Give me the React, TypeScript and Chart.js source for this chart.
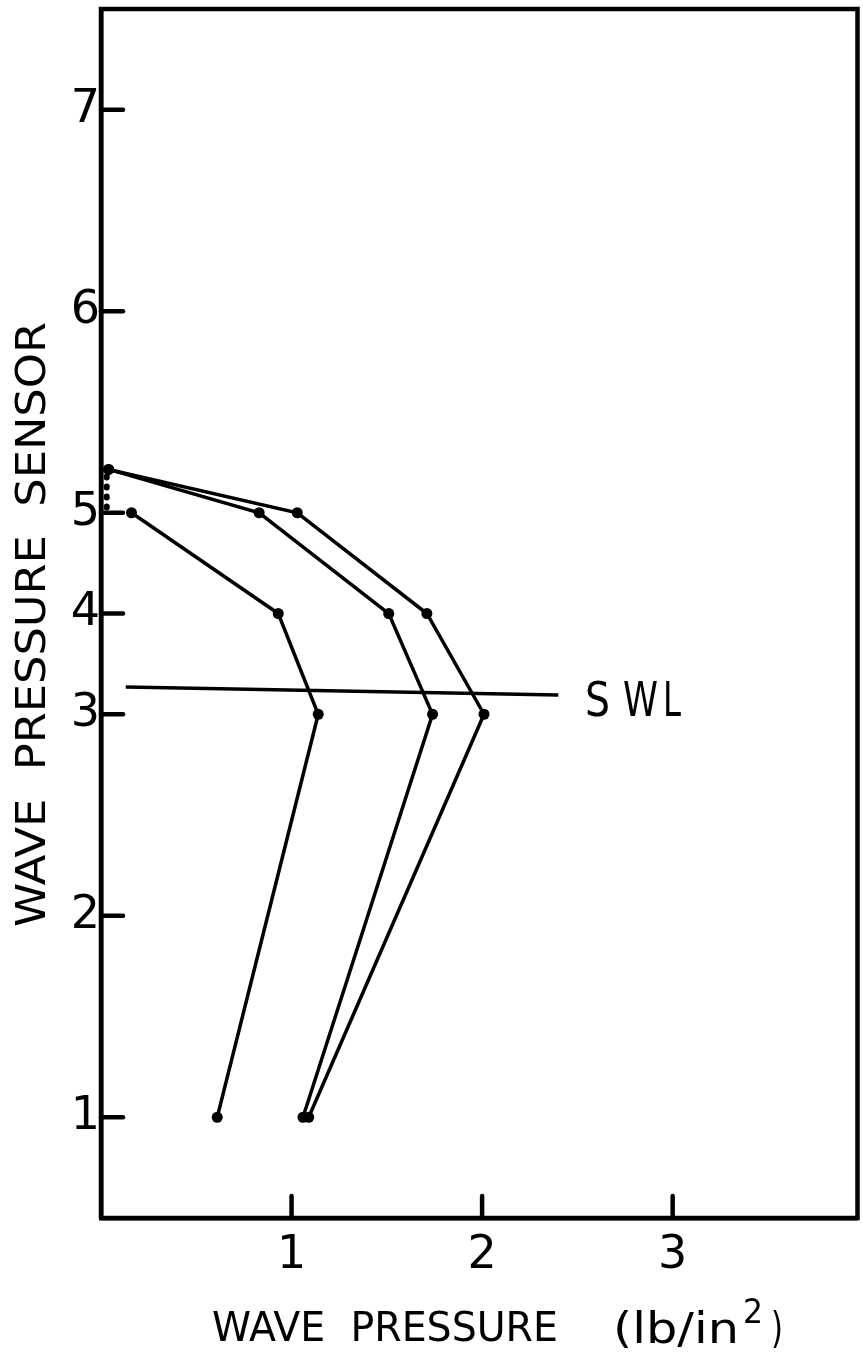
import React, { useEffect, useRef } from "react";
import { Chart, registerables } from "chart.js";

Chart.register(...registerables);

// ---- data ----
const SENSOR_LABELS = ["1", "2", "3", "4", "5", "6", "7"];
const SENSOR_POS = [1, 3, 5, 6, 7, 9, 11]; // vertical position of each sensor
const X_TICKS = [1, 2, 3];

const RUN_A_P = [0.61, 1.14, 0.93, 0.16];
const RUN_A_Y = [1, 5, 6, 7];
const RUN_B_P = [1.06, 1.74, 1.51, 0.83, 0.04];
const RUN_B_Y = [1, 5, 6, 7, 7.43];
const RUN_C_P = [1.09, 2.01, 1.71, 1.03, 0.04];
const RUN_C_Y = [1, 5, 6, 7, 7.43];
const DOT_P = [0.03, 0.03];
const DOT_Y = [7.36, 7.04];
const SWL_P = [0.13, 2.4];
const SWL_Y = [5.27, 5.19];

const X_TITLE_A = "WAVE  PRESSURE";
const X_TITLE_B = "(lb/in";
const X_TITLE_SUP = "2";
const X_TITLE_C = ")";
const Y_TITLE = "WAVE  PRESSURE  SENSOR";
const SWL_LETTERS = ["S", "W", "L"];

const pts = (xs: number[], ys: number[]) => xs.map((x, i) => ({ x, y: ys[i] }));

function fitText(ctx: CanvasRenderingContext2D, text: string, x: number, y: number, width: number, font: string) {
  ctx.font = font;
  const w = ctx.measureText(text).width;
  ctx.save();
  ctx.translate(x, y);
  ctx.scale(width / w, 1);
  ctx.textAlign = "left";
  ctx.textBaseline = "alphabetic";
  ctx.fillText(text, 0, 0);
  ctx.restore();
}

const decor = {
  id: "decor",
  afterDraw(chart: any) {
    const ctx = chart.ctx as CanvasRenderingContext2D;
    const { left, right, top, bottom } = chart.chartArea;
    const xs = chart.scales.x;
    const ys = chart.scales.y;
    ctx.save();
    ctx.strokeStyle = "#000";
    ctx.fillStyle = "#000";
    ctx.lineCap = "round";
    // frame
    ctx.lineWidth = 4.5;
    ctx.beginPath();
    ctx.moveTo(left, bottom);
    ctx.lineTo(left, top);
    ctx.lineTo(right, top);
    ctx.lineTo(right, bottom);
    ctx.lineTo(left, bottom);
    ctx.stroke();
    // inward ticks
    ctx.lineWidth = 4.5;
    SENSOR_POS.forEach((v) => {
      const py = ys.getPixelForValue(v);
      ctx.beginPath();
      ctx.moveTo(left, py);
      ctx.lineTo(left + 22, py);
      ctx.stroke();
    });
    X_TICKS.forEach((v) => {
      const px = xs.getPixelForValue(v);
      ctx.beginPath();
      ctx.moveTo(px, bottom);
      ctx.lineTo(px, bottom - 22);
      ctx.stroke();
    });
    // x title
    const F = '40px "DejaVu Sans"';
    fitText(ctx, X_TITLE_A, 212, 1341, 346, F);
    fitText(ctx, X_TITLE_B, 613, 1343, 126, '42px "DejaVu Sans"');
    fitText(ctx, X_TITLE_SUP, 743, 1323, 20, '34px "DejaVu Sans"');
    fitText(ctx, X_TITLE_C, 771, 1343, 12, '42px "DejaVu Sans"');
    // y title
    ctx.save();
    ctx.translate(45, 927);
    ctx.rotate(-Math.PI / 2);
    fitText(ctx, Y_TITLE, 0, 0, 605, F);
    ctx.restore();
    // SWL label
    const swlY = ys.getPixelForValue(SWL_Y[1]);
    const SF = '48px "DejaVu Sans"';
    fitText(ctx, SWL_LETTERS[0], 585, swlY + 21, 25, SF);
    fitText(ctx, SWL_LETTERS[1], 623, swlY + 21, 35, SF);
    fitText(ctx, SWL_LETTERS[2], 663, swlY + 21, 18, SF);
    ctx.restore();
  },
};

export default function App() {
  const ref = useRef<HTMLCanvasElement>(null);
  useEffect(() => {
    if (!ref.current) return;
    const line = (data: any[], extra: any = {}) => ({
      data,
      borderColor: "#000",
      backgroundColor: "#000",
      borderWidth: 3.5,
      pointRadius: 5.5,
      pointHoverRadius: 5.5,
      pointBackgroundColor: "#000",
      pointBorderWidth: 0,
      showLine: true,
      tension: 0,
      ...extra,
    });
    const chart = new Chart(ref.current, {
      type: "scatter",
      data: {
        datasets: [
          line(pts(RUN_A_P, RUN_A_Y)),
          line(pts(RUN_B_P, RUN_B_Y)),
          line(pts(RUN_C_P, RUN_C_Y)),
          line(pts(DOT_P, DOT_Y), { borderDash: [1, 9], borderWidth: 6, borderCapStyle: "round", pointRadius: 0 }),
          line(pts(SWL_P, SWL_Y), { pointRadius: 0, borderWidth: 3.5 }),
        ],
      },
      options: {
        animation: false,
        responsive: false,
        maintainAspectRatio: false,
        layout: { padding: { top: 9, right: 3, left: 0, bottom: 0 } },
        plugins: { legend: { display: false }, tooltip: { enabled: false } },
        scales: {
          x: {
            type: "linear",
            min: 0,
            max: 3.97,
            grid: { display: false, drawTicks: false },
            border: { display: true, color: "#000", width: 4.5 },
            afterBuildTicks: (s: any) => {
              s.ticks = X_TICKS.map((v) => ({ value: v }));
            },
            afterFit: (s: any) => {
              s.height = 140;
              s.paddingLeft = 0;
              s.paddingRight = 0;
            },
            ticks: {
              color: "#000",
              padding: 10,
              font: { family: "DejaVu Sans", size: 46 },
              callback: (v: any) => String(v),
            },
          },
          y: {
            type: "linear",
            min: 0,
            max: 12,
            grid: { display: false, drawTicks: false },
            border: { display: true, color: "#000", width: 4.5 },
            afterBuildTicks: (s: any) => {
              s.ticks = SENSOR_POS.map((v) => ({ value: v }));
            },
            afterFit: (s: any) => {
              s.width = 101;
              s.paddingTop = 0;
              s.paddingBottom = 0;
            },
            ticks: {
              color: "#000",
              padding: 1,
              font: { family: "DejaVu Sans", size: 46 },
              callback: (v: any) => {
                const i = SENSOR_POS.indexOf(Number(v));
                return i >= 0 ? SENSOR_LABELS[i] : "";
              },
            },
          },
        },
      },
      plugins: [decor],
    });
    return () => chart.destroy();
  }, []);
  return (
    <div style={{ position: "absolute", left: 0, top: 0, width: 863, height: 1358, background: "#fff" }}>
      <canvas ref={ref} width={863} height={1358} style={{ width: 863, height: 1358 }} />
    </div>
  );
}
